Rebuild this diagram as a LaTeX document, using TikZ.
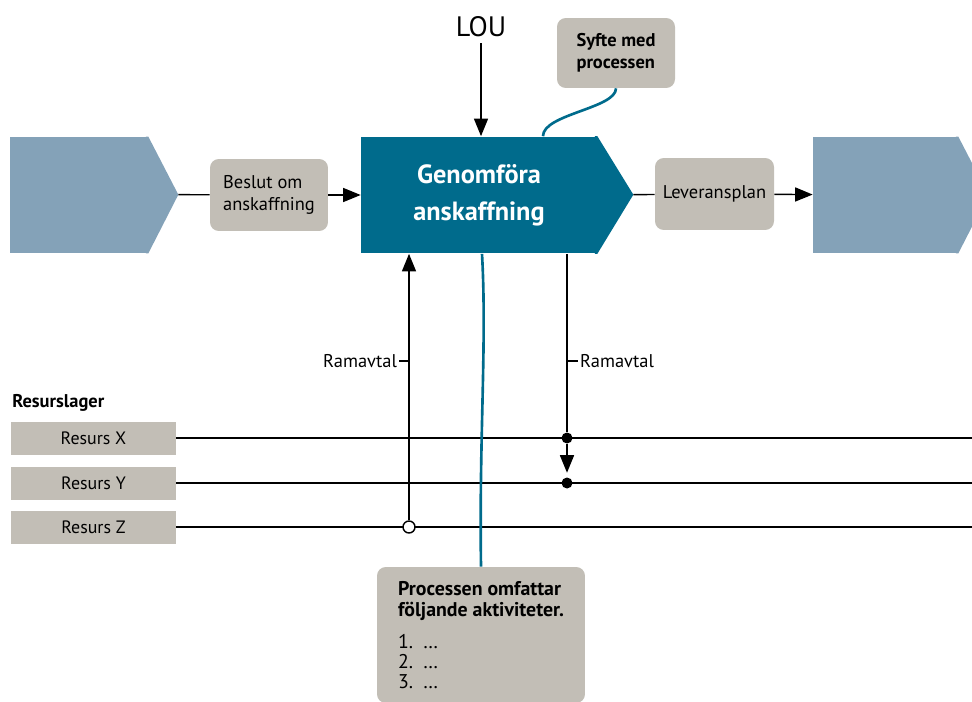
\documentclass[tikz,border=0pt]{standalone}
\usepackage{fontspec}
\setmainfont{PT Sans}
\usetikzlibrary{arrows.meta}
\definecolor{ljusbla}{HTML}{84A2B8}
\definecolor{petrol}{HTML}{006B8C}
\definecolor{gra}{HTML}{C2BEB6}

\begin{document}
\begin{tikzpicture}[x=0.02cm,y=-0.02cm]
	\tikzstyle{pil}=[-{Triangle[length=10pt,width=8pt]}]
	\tikzstyle{linje}=[line width=0.8pt]
	\tikzstyle{kurva}=[petrol,line width=1.5pt]
	\tikzstyle{ruta}=[fill=gra,rounded corners=5pt,inner sep=0pt,align=left,
		font=\fontsize{10.5}{12.5}\selectfont]
	\tikzstyle{resurs}=[fill=gra,minimum width=3.3cm,minimum height=0.66cm,inner sep=0pt,
		font=\fontsize{10.2}{12}\selectfont]
	\tikzstyle{etikett}=[inner sep=1pt,font=\fontsize{10.5}{12}\selectfont]
	\tikzstyle{prick}=[circle,fill=black,minimum size=0.22cm,inner sep=0pt]
	\tikzstyle{ring}=[circle,draw=black,fill=white,line width=0.8pt,minimum size=0.24cm,inner sep=0pt]
	\useasboundingbox (0,0) rectangle (972,702);
	\clip (0,0) rectangle (972,702);
	% processteg
	\node[fill=ljusbla,minimum width=2.76cm,minimum height=2.32cm,inner sep=0pt] (fore) at (79,195) {};
	\fill[ljusbla] ([xshift=-0.05cm]fore.north east) -- (fore.north east) -- ++(30,58) coordinate (forespets)
		-- (fore.south east) -- ([xshift=-0.05cm]fore.south east) -- cycle;
	\node[fill=petrol,minimum width=4.72cm,minimum height=2.34cm,inner sep=0pt,text=white,align=center,
		font=\fontsize{15}{21}\selectfont\bfseries] (genomfora) at (479,195) {Genomföra\\anskaffning};
	\fill[petrol] ([xshift=-0.05cm]genomfora.north east) -- (genomfora.north east) -- ++(36,58.5) coordinate (gspets)
		-- (genomfora.south east) -- ([xshift=-0.05cm]genomfora.south east) -- cycle;
	\node[fill=ljusbla,minimum width=2.9cm,minimum height=2.32cm,inner sep=0pt] (efter) at (885.5,195) {};
	\fill[ljusbla] ([xshift=-0.05cm]efter.north east) -- (efter.north east) -- ++(30,58)
		-- (efter.south east) -- ([xshift=-0.05cm]efter.south east) -- cycle;
	% rutor
	\node[ruta,minimum width=2.36cm,minimum height=1.44cm] (beslut) at (269,195) {Beslut om\\anskaffning};
	\node[ruta,minimum width=2.38cm,minimum height=1.44cm] (lev) at (714.5,194) {Leveransplan};
	\node[ruta,minimum width=2.36cm,minimum height=1.4cm,font=\fontsize{10.5}{12.5}\selectfont\bfseries] (syfte) at (616,53) {Syfte med\\processen};
	\node[ruta,minimum width=4.16cm,minimum height=2.72cm,
		font=\fontsize{11.3}{12}\selectfont] (process) at (481,635)
		{\textbf{Processen omfattar}\\\textbf{följande aktiviteter.}\\[6pt]
		 1.\enspace\dots\\[-0.5pt]2.\enspace\dots\\[-0.5pt]3.\enspace\dots};
	\node[font=\fontsize{16}{18}\selectfont] (lou) at (481,27) {LOU};
	% resurslager
	\node[anchor=west,inner sep=0pt,font=\fontsize{10.5}{12}\selectfont\bfseries] (lager) at (12,403) {Resurslager};
	\foreach \n/\y in {X/438,Y/483,Z/527}{
		\node[resurs] (res\n) at (93.5,\y) {Resurs \n};
		\coordinate (slut\n) at (972,\y);
		\draw[linje] (res\n) -- (slut\n);
	}
	\node[prick] (px) at (567,438) {};
	\node[prick] (py) at (567,483) {};
	\node[ring] (pz) at (409,527) {};
	% flöde
	\draw[linje] (forespets) -- (beslut);
	\draw[linje,pil] (beslut) -- (genomfora);
	\draw[linje] (gspets) -- (lev);
	\draw[linje,pil] (lev) -- (efter);
	\draw[linje,pil] (lou) -- (lou |- genomfora.north);
	\draw[linje,pil] (pz) -- (pz |- genomfora.south);
	\draw[linje] (px |- genomfora.south) -- (px);
	\draw[linje,pil,shorten >=2.5pt] (px) -- (py);
	\node[etikett,anchor=east] (ramv) at (399,361) {Ramavtal};
	\draw[linje] (ramv.east) -- (ramv.east -| pz);
	\node[etikett,anchor=west] (ramh) at (578,361) {Ramavtal};
	\draw[linje] (ramh.west -| px) -- (ramh.west);
	% kopplingar
	\draw[kurva] (syfte.south) .. controls +(0,20) and +(0,-22) .. ([xshift=1.28cm]genomfora.north);
	\draw[kurva] ([xshift=0.06cm]genomfora.south) .. controls +(5,90) and +(-2,-130) .. (process.north);
\end{tikzpicture}
\end{document}
